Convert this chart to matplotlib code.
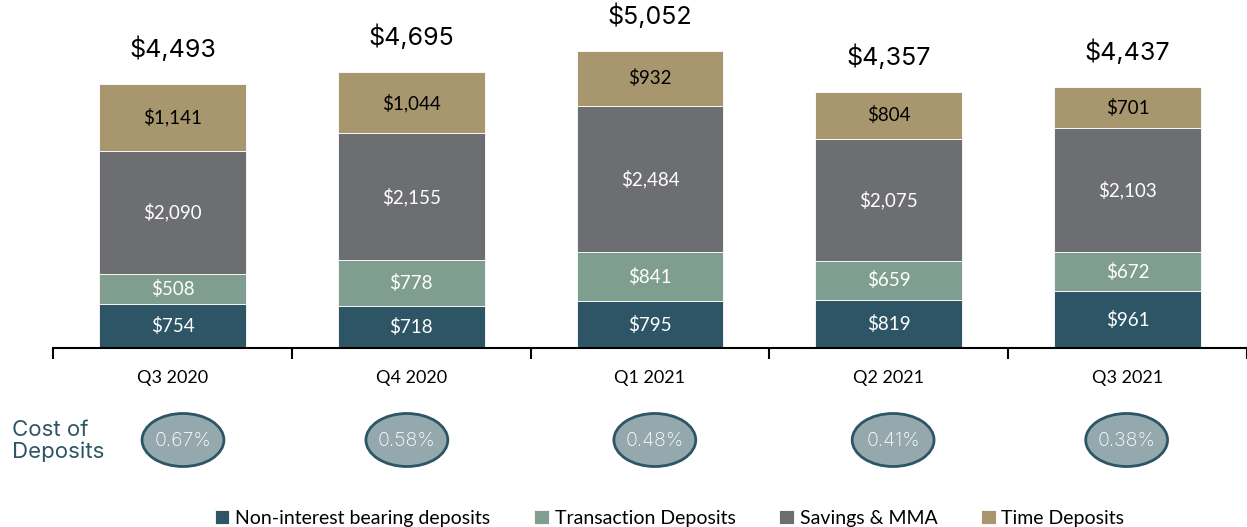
import numpy as np
import matplotlib
matplotlib.use("Agg")
import matplotlib.pyplot as plt
from matplotlib.patches import Ellipse

# data
quarters = ["Q3 2020", "Q4 2020", "Q1 2021", "Q2 2021", "Q3 2021"]
non_interest = [754, 718, 795, 819, 961]
transaction = [508, 778, 841, 659, 672]
savings_mma = [2090, 2155, 2484, 2075, 2103]
time_dep = [1141, 1044, 932, 804, 701]
totals = [4493, 4695, 5052, 4357, 4437]
cost_of_deposits = ["0.67%", "0.58%", "0.48%", "0.41%", "0.38%"]

series_names = ["Non-interest bearing deposits", "Transaction Deposits",
                "Savings & MMA", "Time Deposits"]
colors = ["#2E5566", "#7F9E8F", "#6D6E71", "#A8976E"]
text_colors = ["white", "white", "white", "black"]

plt.rcParams['font.family'] = ['Lato', 'DejaVu Sans']

fig = plt.figure(figsize=(12.47, 5.27), dpi=100)
ax = fig.add_axes([53 / 1247, 1 - 348 / 527, (1247 - 53) / 1247, 348 / 527])

x = np.arange(len(quarters))
bottom = np.zeros(len(quarters))
all_series = [non_interest, transaction, savings_mma, time_dep]
for vals, name, c, tc in zip(all_series, series_names, colors, text_colors):
    vals = np.array(vals)
    ax.bar(x, vals, 0.615, bottom=bottom, color=c, label=name,
           edgecolor="white", linewidth=0.6)
    for xi, b, v in zip(x, bottom, vals):
        ax.text(xi, b + v / 2, "${:,}".format(v), ha="center", va="center",
                color=tc, fontsize=13.5)
    bottom += vals

for xi, t in zip(x, totals):
    ax.text(xi, t + 590, "${:,}".format(t), ha="center", va="center",
            fontsize=18, color="black", family=["Inter", "DejaVu Sans"])

ax.set_xlim(-0.5, 4.46)
ax.set_ylim(0, 5918)
ax.spines[["top", "right", "left"]].set_visible(False)
ax.spines["bottom"].set_linewidth(1.5)
ax.set_yticks([])
ax.set_xticks(x)
ax.set_xticklabels(quarters, fontsize=13)
ax.tick_params(axis="x", which="major", length=0, pad=16)
ax.set_xticks(np.arange(-0.5, 4.6, 1), minor=True)
ax.tick_params(axis="x", which="minor", length=8, width=1.5, direction="out")

# cost of deposits row
ax2 = fig.add_axes([53 / 1247, 1 - 490 / 527, (1247 - 53) / 1247, 100 / 527])
ax2.set_xlim(-0.5, 4.46)
ax2.set_ylim(0, 100)
ax2.axis("off")
offsets = [0.04, -0.03, 0.0, -0.01, -0.04]
for xi, off, cd in zip(x, offsets, cost_of_deposits):
    ax2.add_patch(Ellipse((xi + off, 50), 0.34, 53, facecolor="#94A8AE",
                          edgecolor="#2E5566", linewidth=2))
    ax2.text(xi + off, 49, cd, ha="center", va="center", color="white",
             fontsize=14, family=["Inter", "DejaVu Sans"], fontweight="light")

fig.text(12 / 1247, 1 - 441 / 527, "Cost of\nDeposits", ha="left", va="center",
         color="#2E5566", fontsize=16, linespacing=1.1,
         family=["Inter", "DejaVu Sans"])

fig.legend(loc="center", bbox_to_anchor=(0.537, 0.016), ncol=4, frameon=False,
           fontsize=14, handlelength=0.75, handleheight=0.75, handletextpad=0.3,
           columnspacing=2.25)

fig.savefig("out.png", dpi=100)
